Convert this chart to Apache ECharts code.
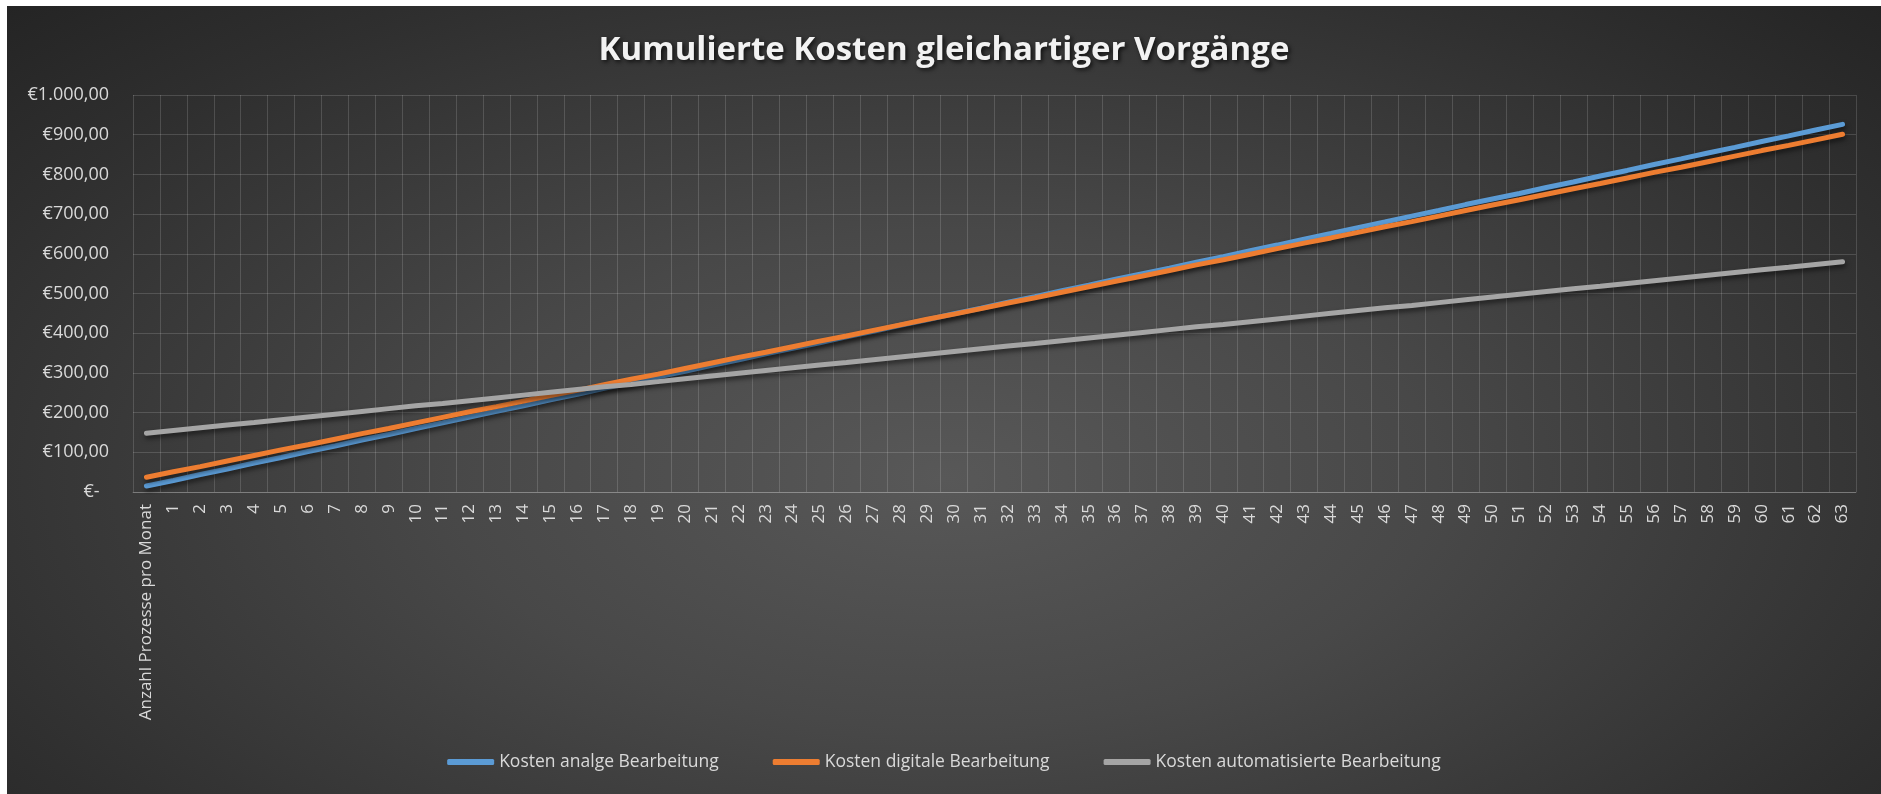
<!DOCTYPE html>
<html>
<head>
<meta charset="utf-8">
<script src="https://cdn.jsdelivr.net/npm/echarts@6/dist/echarts.min.js"></script>
<style>
  html, body { margin: 0; padding: 0; background: #ffffff; }
  #main {
    position: absolute; left: 7px; top: 6px; width: 1874px; height: 788px;
    background: radial-gradient(ellipse 75% 90% at 50% 60%, #585858 0%, #484848 35%, #2f2f2f 75%, #212121 100%);
  }
</style>
</head>
<body>
<div id="main"></div>
<script>
// Kategorien: Anzahl Prozesse pro Monat, dann 1..63
var categories = ['Anzahl Prozesse pro Monat',
  '1','2','3','4','5','6','7','8','9','10','11','12','13','14','15','16','17','18','19','20',
  '21','22','23','24','25','26','27','28','29','30','31','32','33','34','35','36','37','38','39','40',
  '41','42','43','44','45','46','47','48','49','50','51','52','53','54','55','56','57','58','59','60',
  '61','62','63'];

var seriesNames = ['Kosten analge Bearbeitung', 'Kosten digitale Bearbeitung', 'Kosten automatisierte Bearbeitung'];

// Werte
var kostenAnalog = [15, 29, 44, 58, 73, 87, 102, 116, 131, 145, 160, 174, 189, 203, 217, 232,
  246, 261, 275, 290, 304, 319, 333, 348, 362, 376, 391, 405, 420, 434, 449, 463,
  478, 492, 507, 521, 536, 550, 564, 579, 593, 608, 622, 637, 651, 666, 680, 695,
  709, 724, 738, 752, 767, 781, 796, 810, 825, 839, 854, 868, 883, 897, 912, 926];

var kostenDigital = [37, 51, 64, 78, 92, 106, 119, 133, 147, 160, 174, 188, 202, 215, 229, 243,
  256, 270, 284, 297, 311, 325, 339, 352, 366, 380, 393, 407, 421, 435, 448, 462,
  476, 489, 503, 517, 531, 544, 558, 572, 585, 599, 613, 627, 640, 654, 668, 681,
  695, 709, 723, 736, 750, 764, 777, 791, 805, 818, 832, 846, 860, 873, 887, 901];

var kostenAutomatisiert = [148, 155, 162, 169, 175, 182, 189, 196, 203, 210, 217, 223, 230, 237, 244, 251,
  258, 265, 271, 278, 285, 292, 299, 306, 313, 320, 326, 333, 340, 347, 354, 361,
  368, 374, 381, 388, 395, 402, 409, 416, 422, 429, 436, 443, 450, 457, 464, 470,
  477, 484, 491, 498, 505, 512, 518, 525, 532, 539, 546, 553, 560, 566, 573, 580];

var colors = ['#5b9bd5', '#ed7d31', '#a5a5a5'];

function euro(v) {
  if (v === 0) return '€-  ';
  var s = v.toFixed(2).replace('.', ',');
  var parts = s.split(',');
  parts[0] = parts[0].replace(/\B(?=(\d{3})+(?!\d))/g, '.');
  return '€' + parts[0] + ',' + parts[1];
}

var myChart = echarts.init(document.getElementById('main'));

var allData = [kostenAnalog, kostenDigital, kostenAutomatisiert];
var series = allData.map(function (d, i) {
  return {
    name: seriesNames[i],
    type: 'line',
    data: d,
    symbol: 'none',
    color: colors[i],
    lineStyle: {
      width: 5,
      cap: 'round',
      color: colors[i],
      shadowColor: 'rgba(0,0,0,0.55)',
      shadowBlur: 5,
      shadowOffsetX: 1,
      shadowOffsetY: 3
    }
  };
});

myChart.setOption({
  backgroundColor: 'transparent',
  textStyle: { fontFamily: 'Open Sans' },
  title: {
    text: 'Kumulierte Kosten gleichartiger Vorgänge',
    left: 'center',
    top: 23,
    textStyle: {
      color: '#f2f2f2',
      fontFamily: 'Open Sans',
      fontWeight: 'bold',
      fontSize: 33,
      textShadowColor: 'rgba(0,0,0,0.7)',
      textShadowBlur: 4,
      textShadowOffsetX: 2,
      textShadowOffsetY: 2
    }
  },
  legend: {
    data: seriesNames,
    bottom: 18,
    left: 'center',
    icon: 'roundRect',
    itemWidth: 47,
    itemHeight: 6,
    itemGap: 54,
    textStyle: { color: '#d9d9d9', fontSize: 17.5, fontFamily: 'Open Sans' }
  },
  grid: { left: 126, right: 25, top: 89, bottom: 302, containLabel: false },
  xAxis: {
    type: 'category',
    data: categories,
    boundaryGap: true,
    axisTick: { show: false },
    axisLine: { lineStyle: { color: 'rgba(255,255,255,0.22)', width: 1 } },
    axisLabel: { rotate: 90, interval: 0, margin: 12, color: '#d9d9d9', fontSize: 17, fontFamily: 'Open Sans' },
    splitLine: { show: true, interval: 0, lineStyle: { color: 'rgba(255,255,255,0.15)', width: 1 } }
  },
  yAxis: {
    type: 'value',
    min: 0,
    max: 1000,
    interval: 100,
    axisLine: { show: false },
    axisTick: { show: false },
    axisLabel: { margin: 24, color: '#d9d9d9', fontSize: 18, fontFamily: 'Open Sans', formatter: euro },
    splitLine: { lineStyle: { color: 'rgba(255,255,255,0.15)', width: 1 } }
  },
  series: series
});
</script>
</body>
</html>
